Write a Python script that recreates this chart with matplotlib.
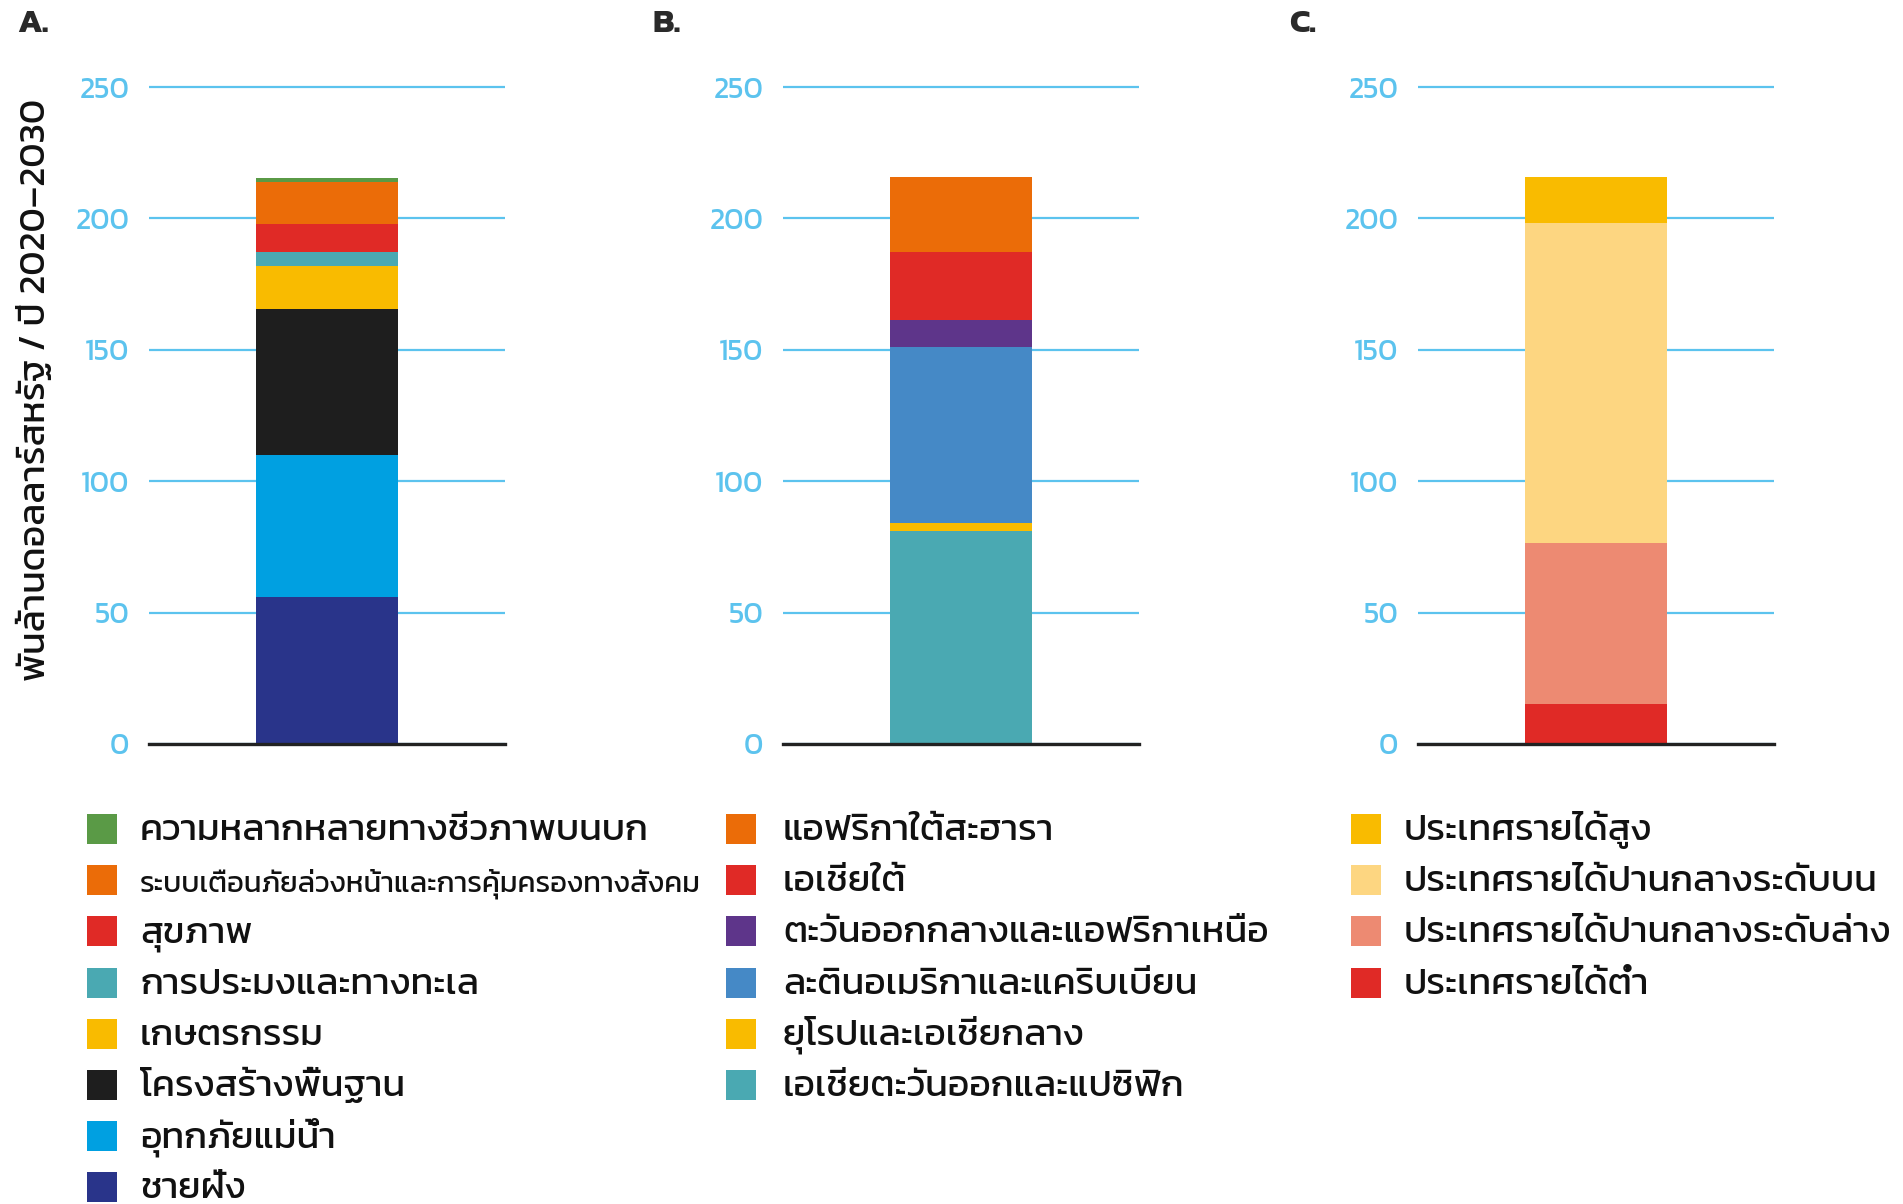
import matplotlib
matplotlib.use('Agg')
import matplotlib.pyplot as plt
from matplotlib.patches import Rectangle

plt.rcParams['font.family'] = ['Kanit', 'DejaVu Sans']

# ข้อมูล (พันล้านดอลลาร์สหรัฐ / ปี) เรียงจากล่างขึ้นบน
sector_labels = ['ชายฝั่ง', 'อุทกภัยแม่น้ำ', 'โครงสร้างพื้นฐาน', 'เกษตรกรรม',
                 'การประมงและทางทะเล', 'สุขภาพ',
                 'ระบบเตือนภัยล่วงหน้าและการคุ้มครองทางสังคม',
                 'ความหลากหลายทางชีวภาพบนบก']
sector_values = [55.9, 54.0, 55.5, 16.6, 5.1, 10.9, 15.7, 1.6]
sector_colors = ['#29348a', '#00a0e1', '#1e1e1e', '#f9bb00', '#4aa9b2',
                 '#e02a26', '#eb6c08', '#5a9a46']

region_labels = ['เอเชียตะวันออกและแปซิฟิก', 'ยุโรปและเอเชียกลาง',
                 'ละตินอเมริกาและแคริบเบียน', 'ตะวันออกกลางและแอฟริกาเหนือ',
                 'เอเชียใต้', 'แอฟริกาใต้สะฮารา']
region_values = [81.2, 2.8, 66.9, 10.3, 26.1, 28.4]
region_colors = ['#4aa9b2', '#f9bb00', '#4589c6', '#5e358a', '#e02a26', '#eb6c08']

income_labels = ['ประเทศรายได้ต่ำ', 'ประเทศรายได้ปานกลางระดับล่าง',
                 'ประเทศรายได้ปานกลางระดับบน', 'ประเทศรายได้สูง']
income_values = [15.4, 61.2, 121.5, 17.6]
income_colors = ['#e02a26', '#ed8a72', '#fdd681', '#f9bb00']

panel_names = ['A.', 'B.', 'C.']
y_ticks = [0, 50, 100, 150, 200, 250]

W, H = 1903, 1204
fig = plt.figure(figsize=(W / 100, H / 100), dpi=100)

grid_col = '#5cc3ee'
panels = [
    (sector_labels, sector_values, sector_colors, 149, 17, 87, 140),
    (region_labels, region_values, region_colors, 783, 652, 726, 783),
    (income_labels, income_values, income_colors, 1418, 1289, 1351, 1404),
]

for i, (labels, values, colors, left_px, letter_px, mark_px, text_px) in enumerate(panels):
    ax = fig.add_axes([left_px / W, 1 - 744 / H, 356 / W, 252 * 2.628 / H])
    bottom = 0
    for v, c in zip(values, colors):
        ax.bar(0, v, bottom=bottom, width=0.8, color=c, linewidth=0, zorder=3)
        bottom += v
    ax.set_xlim(-1, 1)
    ax.set_ylim(0, 252)
    ax.set_xticks([])
    ax.set_yticks(y_ticks)
    ax.yaxis.grid(True, color=grid_col, linewidth=1.6)
    ax.set_axisbelow(True)
    ax.axhline(0, color='#222222', linewidth=2.4, zorder=4, clip_on=False)
    for s in ax.spines.values():
        s.set_visible(False)
    ax.tick_params(axis='y', length=0, pad=14, labelsize=21.5, labelcolor=grid_col)

    fig.text(letter_px / W, 1 - 24 / H, panel_names[i], fontsize=24,
             fontweight='bold', color='#2a2a2a', va='center', ha='left')

    # legend, top of the stack first
    row_y = 829
    for lab, col in zip(labels[::-1], colors[::-1]):
        fig.patches.append(Rectangle((mark_px / W, 1 - (row_y + 15) / H), 30 / W, 30 / H,
                                     transform=fig.transFigure, facecolor=col,
                                     edgecolor='none'))
        fs = 21 if len(lab) > 35 else 26.9
        fig.text(text_px / W, 1 - (row_y + 11) / H, lab, fontsize=fs,
                 color='#111111', va='baseline', ha='left')
        row_y += 51.2

fig.text(35 / W, 1 - 390 / H, 'พันล้านดอลลาร์สหรัฐ / ปี 2020–2030', fontsize=26.8,
         color='#111111', rotation=90, ha='center', va='center')

fig.savefig('out.png', dpi=100)
